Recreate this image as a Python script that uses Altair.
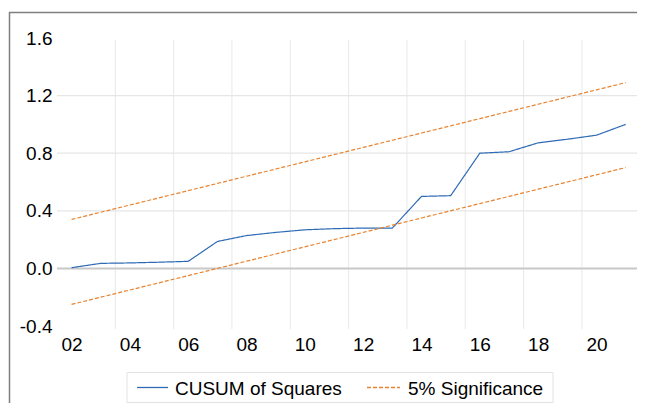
import altair as alt
import pandas as pd

# ---- data ----
years = list(range(2002, 2022))
cusum_sq = [0.005, 0.035, 0.038, 0.043, 0.049, 0.187, 0.228, 0.25, 0.268, 0.276,
            0.28, 0.28, 0.50, 0.505, 0.80, 0.81, 0.872, 0.897, 0.925, 1.0]
lower_bound = [-0.25, -0.20, -0.15, -0.10, -0.05, 0.00, 0.05, 0.10, 0.15, 0.20,
               0.25, 0.30, 0.35, 0.40, 0.45, 0.50, 0.55, 0.60, 0.65, 0.70]
upper_bound = [0.34, 0.39, 0.44, 0.49, 0.54, 0.59, 0.64, 0.69, 0.74, 0.79,
               0.84, 0.89, 0.94, 0.99, 1.04, 1.09, 1.14, 1.19, 1.24, 1.29]
series_names = ["CUSUM of Squares", "5% Significance"]
label_years = [2002, 2004, 2006, 2008, 2010, 2012, 2014, 2016, 2018, 2020]
grid_years = [2003.5, 2005.5, 2007.5, 2009.5, 2011.5, 2013.5, 2015.5, 2017.5, 2019.5]
y_ticks = [-0.4, 0.0, 0.4, 0.8, 1.2, 1.6]
y_grid = [0.4, 0.8, 1.2]
zero_line = [0.0]

BLUE = "#2f6bb5"
ORANGE = "#e8832f"
FONT = "Liberation Sans"
FS = 19
W, H = 580, 288

rows = []
for yr, v in zip(years, cusum_sq):
    rows.append({"year": yr, "value": v, "series": series_names[0], "part": "cusum"})
for yr, v in zip(years, lower_bound):
    rows.append({"year": yr, "value": v, "series": series_names[1], "part": "lower"})
for yr, v in zip(years, upper_bound):
    rows.append({"year": yr, "value": v, "series": series_names[1], "part": "upper"})
df = pd.DataFrame(rows)

xscale = alt.Scale(domain=[2001.5, 2021.39], nice=False, zero=False)
yscale = alt.Scale(domain=[-0.4, 1.6], nice=False, zero=False)

vgrid = alt.Chart(pd.DataFrame({"g": grid_years})).mark_rule(
    color="#e8e8e8", strokeWidth=1
).encode(
    x=alt.X("g:Q", scale=xscale), y=alt.value(2), y2=alt.value(H + 3)
)

hgrid = alt.Chart(pd.DataFrame({"v": y_grid})).mark_rule(
    color="#e6e6e6", strokeWidth=1.2
).encode(
    y=alt.Y("v:Q", scale=yscale), x=alt.value(0), x2=alt.value(W + 10)
)

zline = alt.Chart(pd.DataFrame({"v": zero_line})).mark_rule(
    color="#c8c8c8", strokeWidth=2
).encode(
    y=alt.Y("v:Q", scale=yscale), x=alt.value(0), x2=alt.value(W + 10)
)

lines = alt.Chart(df).mark_line(strokeWidth=1.2).encode(
    x=alt.X("year:Q", scale=xscale,
            axis=alt.Axis(values=label_years, labelExpr="format(datum.value % 100, '02d')",
                          title=None, labelPadding=9)),
    y=alt.Y("value:Q", scale=yscale,
            axis=alt.Axis(values=y_ticks,
                          labelExpr="(datum.value < 0 ? '-' : '') + format(abs(datum.value), '.1f')",
                          title=None, labelPadding=5)),
    color=alt.Color("series:N", scale=alt.Scale(domain=series_names, range=[BLUE, ORANGE]),
                    legend=None),
    strokeDash=alt.StrokeDash("series:N",
                              scale=alt.Scale(domain=series_names, range=[[1, 0], [4, 2]]),
                              legend=None),
    detail="part:N",
)

# ---- legend (decoration, positioned in pixels below the plot) ----
one = pd.DataFrame({"a": [0]})
LY = 349.5
leg_box = alt.Chart(one).mark_rect(fill="#ffffff", stroke="#e2e2e2", strokeWidth=1).encode(
    x=alt.value(70), x2=alt.value(496), y=alt.value(334.5), y2=alt.value(364.5)
)
leg_s1 = alt.Chart(one).mark_rule(color=BLUE, strokeWidth=1.3).encode(
    x=alt.value(80), x2=alt.value(111), y=alt.value(LY)
)
leg_t1 = alt.Chart(one).mark_text(
    text=series_names[0], align="left", baseline="middle", font=FONT, fontSize=FS, color="#000000"
).encode(x=alt.value(118), y=alt.value(LY + 1))
leg_s2 = alt.Chart(one).mark_rule(color=ORANGE, strokeWidth=1.3, strokeDash=[4, 2]).encode(
    x=alt.value(310), x2=alt.value(343), y=alt.value(LY)
)
leg_t2 = alt.Chart(one).mark_text(
    text=series_names[1], align="left", baseline="middle", font=FONT, fontSize=FS, color="#000000"
).encode(x=alt.value(351), y=alt.value(LY + 1))

frame_left = alt.Chart(one).mark_rule(color="#7f7f7f", strokeWidth=1.5).encode(
    x=alt.value(-47.5), y=alt.value(-26), y2=alt.value(H + 120)
)
frame_top = alt.Chart(one).mark_rule(color="#7f7f7f", strokeWidth=1.5).encode(
    y=alt.value(-25.5), x=alt.value(-48), x2=alt.value(W + 10)
)

chart = alt.layer(
    vgrid, hgrid, zline, lines, leg_box, leg_s1, leg_t1, leg_s2, leg_t2, frame_left, frame_top
).properties(
    width=W, height=H,
    autosize=alt.AutoSizeParams(type="none"),
    padding={"left": 49, "top": 30, "right": 0, "bottom": 77},
).configure_view(stroke=None).configure_axis(
    grid=False, ticks=False, domain=False,
    labelFont=FONT, labelFontSize=FS, labelColor="#000000",
)

chart.save("out.html", embed_options={"renderer": "svg", "actions": False})
